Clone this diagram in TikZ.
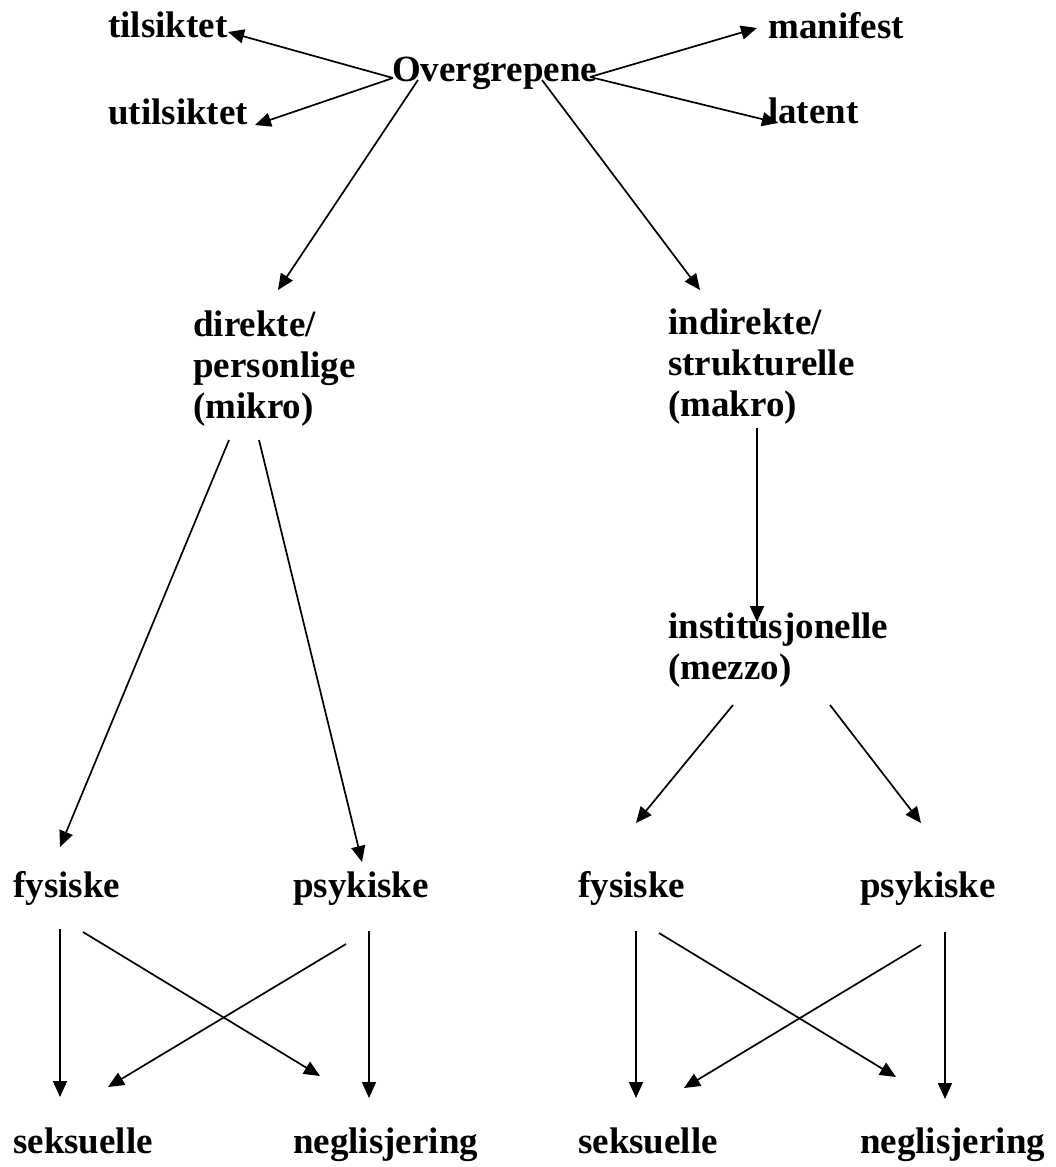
\documentclass[tikz,border=0pt]{standalone}
\usepackage{fontspec}
\setmainfont{Liberation Serif}
\usetikzlibrary{arrows.meta}
\begin{document}
\begin{tikzpicture}[x=1pt,y=-1pt,
  lbl/.style={anchor=base west,inner sep=0pt,align=left,font=\fontsize{37}{41}\selectfont\bfseries},
  arr/.style={line width=1.7pt,-{Triangle[length=16pt,width=14pt]}}]
\useasboundingbox (0,0) rectangle (1056,1167);
% text nodes (multi-line nodes are placed by the baseline of their last line)
\node[lbl] (tils) at (108,37) {tilsiktet};
\node[lbl] (utils) at (108,124) {utilsiktet};
\node[lbl] (over) at (392,81) {Overgrepene};
\node[lbl] (mani) at (768,38) {manifest};
\node[lbl] (late) at (768,123) {latent};
\node[lbl] (dir) at (193,418) {direkte/\\personlige\\(mikro)};
\node[lbl] (ind) at (668,416) {indirekte/\\strukturelle\\(makro)};
\node[lbl] (inst) at (668,679) {institusjonelle\\(mezzo)};
\node[lbl] (fysL) at (13,897) {fysiske};
\node[lbl] (psyL) at (293,897) {psykiske};
\node[lbl] (fysR) at (578,897) {fysiske};
\node[lbl] (psyR) at (860,897) {psykiske};
\node[lbl] (sekL) at (13,1153) {seksuelle};
\node[lbl] (negL) at (293,1153) {neglisjering};
\node[lbl] (sekR) at (578,1153) {seksuelle};
\node[lbl] (negR) at (860,1153) {neglisjering};
% connector end points
\coordinate (o1) at (393,78);
\coordinate (o2) at (590,77);
\coordinate (o3) at (418,80);
\coordinate (o4) at (542,80);
\coordinate (tTils) at (228,32);
\coordinate (tUtils) at (255,125);
\coordinate (tMani) at (757,28);
\coordinate (tLate) at (778,123);
\coordinate (tDir) at (278,290);
\coordinate (tInd) at (700,290);
\coordinate (d1) at (229,440);
\coordinate (d2) at (259,440);
\coordinate (tFysL) at (60,847);
\coordinate (tPsyL) at (362,862);
\coordinate (m1) at (757,428);
\coordinate (tInst) at (757,622);
\coordinate (z1) at (733,705);
\coordinate (z2) at (830,705);
\coordinate (tFysR) at (636,823);
\coordinate (tPsyR) at (921,823);
% bottom left
\coordinate (fl1) at (60,929);
\coordinate (fl2) at (83,932);
\coordinate (pl1) at (346,944);
\coordinate (pl2) at (369,931);
\coordinate (tSekL1) at (60,1097);
\coordinate (tSekL2) at (108,1087);
\coordinate (tNegL1) at (320,1076);
\coordinate (tNegL2) at (369,1098);
% bottom right
\coordinate (fr1) at (636,931);
\coordinate (fr2) at (659,933);
\coordinate (pr1) at (921,945);
\coordinate (pr2) at (945,932);
\coordinate (tSekR1) at (636,1098);
\coordinate (tSekR2) at (684,1088);
\coordinate (tNegR1) at (896,1077);
\coordinate (tNegR2) at (945,1099);
% connectors
\draw[arr] (o1) -- (tTils);
\draw[arr] (o1) -- (tUtils);
\draw[arr] (o2) -- (tMani);
\draw[arr] (o2) -- (tLate);
\draw[arr] (o3) -- (tDir);
\draw[arr] (o4) -- (tInd);
\draw[arr] (d1) -- (tFysL);
\draw[arr] (d2) -- (tPsyL);
\draw[arr] (m1) -- (tInst);
\draw[arr] (z1) -- (tFysR);
\draw[arr] (z2) -- (tPsyR);
\draw[arr] (fl1) -- (tSekL1);
\draw[arr] (fl2) -- (tNegL1);
\draw[arr] (pl1) -- (tSekL2);
\draw[arr] (pl2) -- (tNegL2);
\draw[arr] (fr1) -- (tSekR1);
\draw[arr] (fr2) -- (tNegR1);
\draw[arr] (pr1) -- (tSekR2);
\draw[arr] (pr2) -- (tNegR2);
\end{tikzpicture}
\end{document}
